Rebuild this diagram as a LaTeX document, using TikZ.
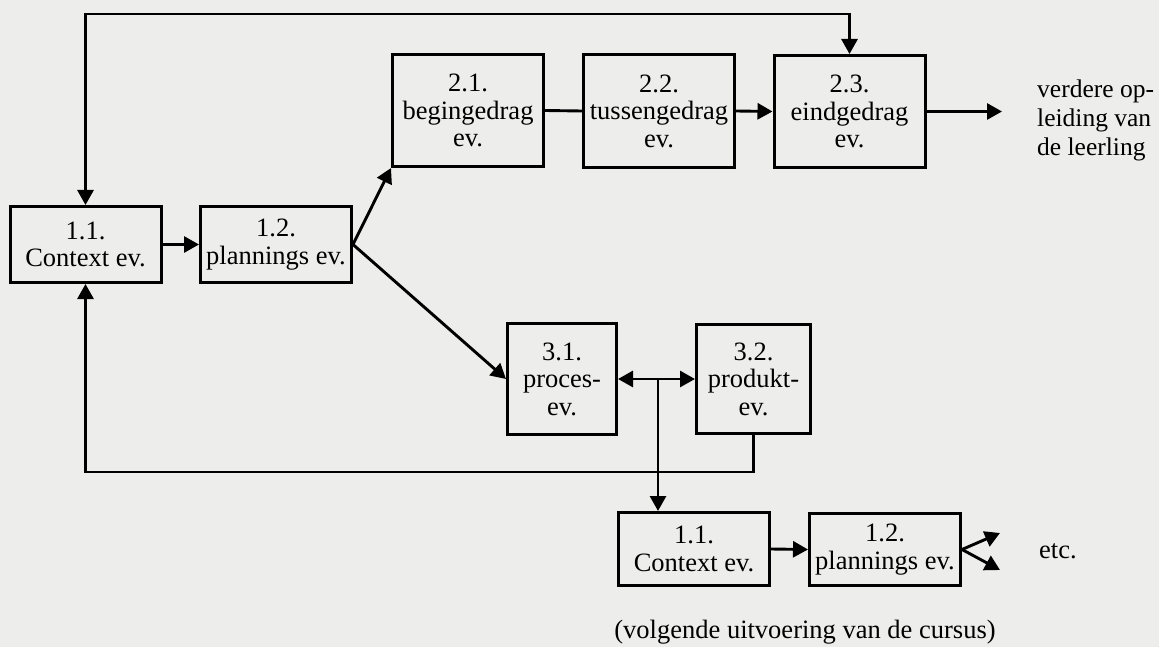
\documentclass[tikz,border=0pt]{standalone}
\usepackage{fontspec}
\setmainfont{Liberation Serif}
\usetikzlibrary{arrows.meta}
\definecolor{paper}{RGB}{237,237,235}
\tikzset{
  box/.style={draw=black, line width=3pt, rectangle, minimum width=151pt, inner sep=0pt,
    align=center, font=\fontsize{26.5}{27.5}\selectfont},
  txt/.style={inner sep=0pt, font=\fontsize{26.5}{28.5}\selectfont},
  link/.style={line width=2.9pt},
  conn/.style={link, -{Triangle[length=15pt,width=16pt]}},
  biconn/.style={link, {Triangle[length=15pt,width=16pt]}-{Triangle[length=15pt,width=16pt]}},
}
\begin{document}
\begin{tikzpicture}[x=1pt,y=-1pt]
\fill[paper] (0,0) rectangle (1159,647);
\useasboundingbox (0,0) rectangle (1159,647);

% nodes
\node[box, minimum height=76pt] (c11) at (85.5,244.5) {1.1.\\Context ev.};
\node[box, minimum height=76pt] (c12) at (276,244.5) {1.2.\\plannings ev.};
\node[box, minimum height=112pt] (b21) at (468,110.5) {2.1.\\begingedrag\\ev.};
\node[box, minimum height=113pt] (b22) at (659,111) {2.2.\\tussengedrag\\ev.};
\node[box, minimum height=112pt] (b23) at (849.5,111.5) {2.3.\\eindgedrag\\ev.};
\node[box, minimum width=109pt, minimum height=111pt] (p31) at (562,379) {3.1.\\proces-\\ev.};
\node[box, minimum width=114pt, minimum height=109pt] (p32) at (753.5,379) {3.2.\\produkt-\\ev.};
\node[box, minimum height=73pt] (l11) at (694,549) {1.1.\\Context ev.};
\node[box, minimum height=72pt] (l12) at (885,549.5) {1.2.\\plannings ev.};

\node[txt, align=left, anchor=west, font=\fontsize{25.5}{29}\selectfont] (nxt) at (1037,120) {verdere op-\\leiding van\\de leerling};
\node[txt, anchor=west] (etc) at (1039,551) {etc.};
\node[txt] (cap) at (805,632) {(volgende uitvoering van de cursus)};

% helper coordinates
\coordinate (top) at (0,14);
\coordinate (bot) at (0,472);
\coordinate (tipA) at (1002,111.5);
\coordinate (mid) at (658,379);
\coordinate (f1) at (1000,533);
\coordinate (f2) at (1000,570);

% connectors
\draw[conn] (c11.east) -- (c12.west);
\draw[conn] (c12.east) -- (b21.south west);
\draw[conn] (c12.east) -- (p31.west);
\draw[link] (b21.east) -- (b22.west);
\draw[conn] (b22.east) -- (b23.west);
\draw[conn] (b23.east) -- (tipA);
\draw[biconn] (c11.north) -- (c11.north |- top) -| (b23.north);
\draw[conn] (p32.south) -- (p32.south |- bot) -| (c11.south);
\draw[biconn] (p31.east) -- (p32.west);
\draw[conn] (mid) -- (mid |- l11.north);
\draw[conn] (l11.east) -- (l12.west);
\draw[conn] (l12.east) -- (f1);
\draw[conn] (l12.east) -- (f2);
\end{tikzpicture}
\end{document}
